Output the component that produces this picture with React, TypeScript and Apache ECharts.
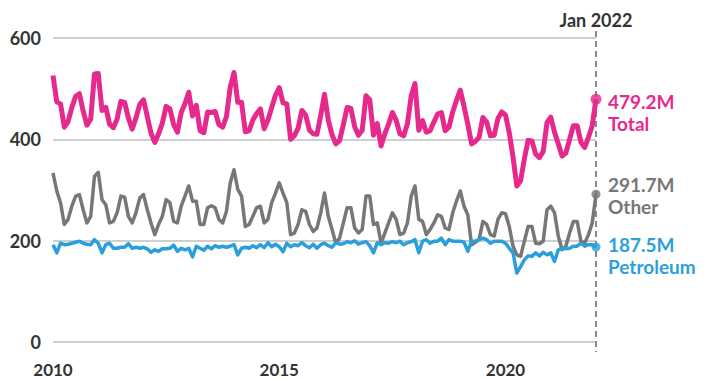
import React, { useEffect, useRef } from "react";
import * as echarts from "echarts";

const startYear = 2010;
const xTickYears = [2010, 2015, 2020];
const yTicks = [0, 200, 400, 600];
const markerLabel = "Jan 2022";

// monthly values, Jan 2010 .. Jan 2022 (millions)
const otherValues = [
  334, 298, 275, 232, 242, 268, 288, 291, 261, 235, 248, 327,
  335, 281, 271, 235, 238, 255, 288, 286, 248, 235, 255, 284,
  291, 261, 235, 212, 232, 248, 281, 275, 238, 235, 268, 288,
  308, 278, 278, 232, 232, 265, 269, 265, 242, 235, 258, 314,
  340, 301, 288, 228, 232, 248, 265, 268, 235, 242, 275, 294,
  314, 294, 275, 212, 215, 232, 261, 258, 232, 218, 225, 255,
  294, 248, 222, 195, 205, 235, 265, 265, 225, 215, 222, 288,
  288, 232, 235, 195, 215, 235, 255, 242, 212, 215, 235, 288,
  308, 242, 238, 212, 222, 235, 251, 248, 225, 222, 255, 278,
  298, 268, 251, 192, 197, 202, 238, 232, 212, 209, 242, 255,
  253, 228, 189, 172, 169, 199, 228, 228, 195, 194, 199, 261,
  268, 255, 209, 182, 189, 215, 238, 238, 199, 195, 212, 235,
  291.7,
];

const petroleumValues = [
  192, 176, 195, 192, 193, 195, 197, 199, 195, 193, 192, 202,
  195, 176, 192, 195, 185, 185, 187, 187, 194, 185, 187, 185,
  187, 184, 177, 182, 179, 184, 184, 185, 191, 179, 185, 182,
  185, 168, 189, 185, 181, 189, 184, 190, 187, 189, 187, 189,
  192, 172, 185, 187, 185, 190, 186, 192, 186, 196, 188, 193,
  188, 178, 195, 188, 192, 190, 196, 190, 186, 193, 185, 192,
  195, 190, 187, 196, 193, 194, 198, 196, 200, 193, 196, 198,
  190, 176, 196, 192, 196, 195, 198, 196, 199, 192, 196, 198,
  202, 176, 199, 202, 195, 199, 199, 205, 192, 202, 199, 199,
  199, 197, 179, 199, 199, 202, 205, 202, 195, 199, 199, 199,
  195, 185, 176, 136, 149, 162, 170, 169, 176, 170, 177, 172,
  176, 159, 182, 185, 184, 185, 189, 189, 195, 189, 192, 192,
  187.5,
];

const totalValues = [
  526, 474, 470, 424, 435, 463, 485, 490, 456, 428, 440, 529,
  530, 457, 463, 430, 423, 440, 475, 473, 442, 420, 442, 469,
  478, 445, 412, 394, 411, 432, 465, 460, 429, 414, 453, 470,
  493, 446, 467, 417, 413, 454, 453, 455, 429, 424, 445, 503,
  532, 473, 473, 415, 417, 438, 451, 460, 421, 438, 463, 487,
  502, 472, 470, 400, 407, 422, 457, 448, 418, 411, 410, 447,
  489, 438, 409, 391, 398, 429, 463, 461, 425, 408, 418, 486,
  478, 408, 431, 387, 411, 430, 453, 438, 411, 407, 431, 486,
  510, 418, 437, 414, 417, 434, 450, 453, 417, 424, 454, 477,
  497, 465, 430, 391, 396, 404, 443, 434, 407, 408, 441, 454,
  448, 413, 365, 308, 318, 361, 398, 397, 371, 364, 376, 433,
  444, 414, 391, 367, 373, 400, 427, 427, 394, 384, 404, 427,
  479.2,
];

const seriesNames = ["Other", "Petroleum", "Total"];
const seriesColors = ["#777777", "#2b9fdc", "#e6298d"];

const FONT = "Lato, 'Noto Sans', sans-serif";

export default function App() {
  const ref = useRef<HTMLDivElement>(null);

  useEffect(() => {
    if (!ref.current) return;
    const chart = echarts.init(ref.current, null, { renderer: "svg" });
    const categories = totalValues.map((_, i) => {
      const y = startYear + Math.floor(i / 12);
      const m = (i % 12) + 1;
      return `${y}-${m < 10 ? "0" + m : m}`;
    });
    const lastIdx = categories.length - 1;

    const makeLine = (
      name: string,
      values: number[],
      color: string,
      width: number,
      labelDy: number,
      z: number
    ) => ({
      name,
      type: "line",
      z,
      data: values,
      showSymbol: false,
      symbol: "circle",
      lineStyle: { color, width, join: "round" },
      itemStyle: { color },
      emphasis: { disabled: true },
      endLabel: {
        show: true,
        distance: 12,
        offset: [0, labelDy],
        formatter: (p: any) => `{v|${Number(p.value).toFixed(1)}M}\n{n|${name}}`,
        rich: {
          v: { fontFamily: FONT, fontWeight: "bold", fontSize: 19, color, lineHeight: 22 },
          n: { fontFamily: FONT, fontWeight: "bold", fontSize: 19, color, lineHeight: 22 },
        },
      },
    });

    const makeDot = (values: number[], color: string, size: number, z: number) => ({
      type: "scatter",
      z,
      silent: true,
      symbol: "circle",
      symbolSize: size,
      itemStyle: { color },
      data: [[categories[lastIdx], values[lastIdx]]],
    });

    chart.setOption({
      animation: false,
      grid: { left: 53, right: 109, top: 38, bottom: 37, containLabel: false },
      xAxis: {
        type: "category",
        data: categories,
        boundaryGap: false,
        axisLine: { show: false },
        axisTick: { show: false },
        axisLabel: {
          interval: (idx: number) =>
            idx % 12 === 0 && xTickYears.indexOf(startYear + idx / 12) >= 0,
          formatter: (v: string) => v.slice(0, 4),
          margin: 19,
          fontFamily: FONT,
          fontWeight: "bold",
          fontSize: 17,
          color: "#333",
        },
      },
      yAxis: {
        type: "value",
        min: yTicks[0],
        max: yTicks[yTicks.length - 1],
        interval: yTicks[1] - yTicks[0],
        axisLine: { show: false },
        axisTick: { show: false },
        splitLine: { lineStyle: { color: "#cfcfcf", width: 2 } },
        axisLabel: {
          margin: 12,
          fontFamily: FONT,
          fontWeight: "bold",
          fontSize: 18,
          color: "#333",
        },
      },
      series: [
        makeLine(seriesNames[0], otherValues, seriesColors[0], 3.5, 1, 2),
        makeLine(seriesNames[1], petroleumValues, seriesColors[1], 3.5, 8, 3),
        makeLine(seriesNames[2], totalValues, seriesColors[2], 5, 13, 4),
        makeDot(otherValues, seriesColors[0], 9, 5),
        makeDot(petroleumValues, seriesColors[1], 9, 5),
        makeDot(totalValues, seriesColors[2], 11, 5),
      ],
    });

    const x = chart.convertToPixel({ xAxisIndex: 0 }, categories[lastIdx]) as number;
    chart.setOption({
      graphic: [
        {
          type: "line",
          z: 1,
          shape: { x1: x, y1: 31, x2: x, y2: 352 },
          style: { stroke: "#8a8a8a", lineWidth: 2, lineDash: [6, 4] },
        },
        {
          type: "text",
          x,
          y: 20,
          style: {
            text: markerLabel,
            fontFamily: FONT,
            fontWeight: "bold",
            fontSize: 18,
            fill: "#333",
            align: "center",
            verticalAlign: "middle",
          },
        },
      ],
    });

    return () => chart.dispose();
  }, []);

  return (
    <div
      ref={ref}
      style={{ position: "fixed", left: 0, top: 0, width: 705, height: 379, background: "#fff" }}
    />
  );
}
